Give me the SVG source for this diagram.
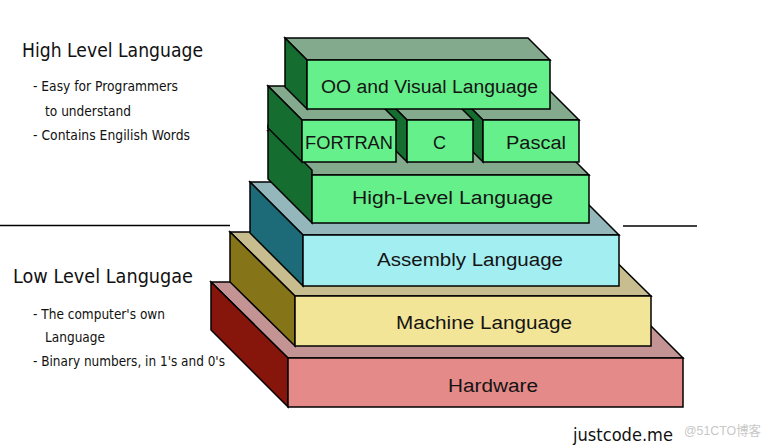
<svg xmlns="http://www.w3.org/2000/svg" width="770" height="447" viewBox="0 0 770 447">
<style>
  .e{stroke:#000;stroke-width:1.5;stroke-linejoin:miter}
  .gF{fill:#66f08b}.gS{fill:#156e30}.gT{fill:#84aa8d}
  .aF{fill:#a3eef1}.aS{fill:#1d6b78}.aT{fill:#93b7bb}
  .mF{fill:#f3e597}.mS{fill:#857418}.mT{fill:#c8bd8e}
  .hF{fill:#e48a88}.hS{fill:#86150c}.hT{fill:#c49494}
  .lbl{font-family:"Liberation Sans",Arial,sans-serif;font-size:18px;fill:#141414;text-anchor:start}
  .side{font-family:"DejaVu Sans","Liberation Sans",sans-serif;fill:#111}
  .h{font-size:19px}.s{font-size:13.5px}
</style>
<rect width="770" height="447" fill="#fff"/>

<g id="separators">
  <line x1="0" y1="225.5" x2="230" y2="225.5" stroke="#000" stroke-width="1.5"/>
  <line x1="623" y1="226" x2="697" y2="226" stroke="#000" stroke-width="1.5"/>
</g>

<g id="hardware">
  <polygon class="e hT" points="211,282 607,282 683,358 288,358"/>
  <polygon class="e hS" points="211,282 288,358 288,407 211,330"/>
  <rect class="e hF" x="288" y="358" width="395" height="49"/>
  <text class="lbl" x="448" y="392" textLength="90" lengthAdjust="spacingAndGlyphs">Hardware</text>
</g>

<g id="machine">
  <polygon class="e mT" points="230,232 586,232 651,296 295,296"/>
  <polygon class="e mS" points="230,232 295,296 295,346 230,282"/>
  <rect class="e mF" x="295" y="296" width="356" height="50"/>
  <text class="lbl" x="396" y="329" textLength="176" lengthAdjust="spacingAndGlyphs">Machine Language</text>
</g>

<g id="assembly">
  <polygon class="e aT" points="250,182 566,182 619,235 303,235"/>
  <polygon class="e aS" points="250,182 303,235 303,286 250,233"/>
  <rect class="e aF" x="303" y="235" width="316" height="51"/>
  <text class="lbl" x="377" y="266" textLength="186" lengthAdjust="spacingAndGlyphs">Assembly Language</text>
</g>

<g id="high-level">
  <polygon class="e gT" points="268,131 545,131 589,175 312,175"/>
  <polygon class="e gS" points="268,126 312,170 312,223 268,179"/>
  <rect class="e gF" x="312" y="175" width="277" height="48"/>
  <text class="lbl" x="352" y="204" textLength="201" lengthAdjust="spacingAndGlyphs">High-Level Language</text>
</g>

<g id="pascal">
  <polygon class="e gT" points="449,86 545,86 579,120 483,120"/>
  <polygon class="e gS" points="449,86 483,120 483,162 449,128"/>
  <rect class="e gF" x="483" y="120" width="96" height="42"/>
  <text class="lbl" x="506" y="149" textLength="60" lengthAdjust="spacingAndGlyphs">Pascal</text>
</g>

<g id="c">
  <polygon class="e gT" points="373,86 439,86 473,120 407,120"/>
  <polygon class="e gS" points="373,86 407,120 407,162 373,128"/>
  <rect class="e gF" x="407" y="120" width="66" height="42"/>
  <text class="lbl" x="433" y="149" textLength="13" lengthAdjust="spacingAndGlyphs">C</text>
</g>

<g id="fortran">
  <polygon class="e gT" points="268,86 362,86 396,120 302,120"/>
  <polygon class="e gS" points="268,86 302,120 302,162 268,128"/>
  <rect class="e gF" x="302" y="120" width="94" height="42"/>
  <text class="lbl" x="305" y="149" textLength="88" lengthAdjust="spacingAndGlyphs">FORTRAN</text>
</g>

<g id="oo-visual">
  <polygon class="e gT" points="285,38 528,38 550,60 307,60"/>
  <polygon class="e gS" points="285,38 307,60 307,109 285,87"/>
  <rect class="e gF" x="307" y="60" width="243" height="49"/>
  <text class="lbl" x="321" y="93" textLength="217" lengthAdjust="spacingAndGlyphs">OO and Visual Language</text>
</g>

<g id="high-level-notes" class="side">
  <text class="h" x="22" y="57" textLength="181" lengthAdjust="spacingAndGlyphs">High Level Language</text>
  <text class="s" x="33" y="91" textLength="145" lengthAdjust="spacingAndGlyphs">- Easy for Programmers</text>
  <text class="s" x="45" y="116" textLength="86" lengthAdjust="spacingAndGlyphs">to understand</text>
  <text class="s" x="33" y="140" textLength="157" lengthAdjust="spacingAndGlyphs">- Contains Engilish Words</text>
</g>

<g id="low-level-notes" class="side">
  <text class="h" x="13" y="283" textLength="180" lengthAdjust="spacingAndGlyphs">Low Level Langugae</text>
  <text class="s" x="33" y="319" textLength="132" lengthAdjust="spacingAndGlyphs">- The computer's own</text>
  <text class="s" x="45" y="342" textLength="60" lengthAdjust="spacingAndGlyphs">Language</text>
  <text class="s" x="33" y="366" textLength="192" lengthAdjust="spacingAndGlyphs">- Binary numbers, in 1's and 0's</text>
</g>

<g id="credits">
  <text class="side" x="573" y="441" font-size="18" textLength="100" lengthAdjust="spacingAndGlyphs">justcode.me</text>
  <text x="684" y="435" font-family="'Liberation Sans','Noto Sans CJK SC',sans-serif" font-size="13" fill="#c8c8c8" textLength="77" lengthAdjust="spacingAndGlyphs">@51CTO博客</text>
</g>
</svg>
